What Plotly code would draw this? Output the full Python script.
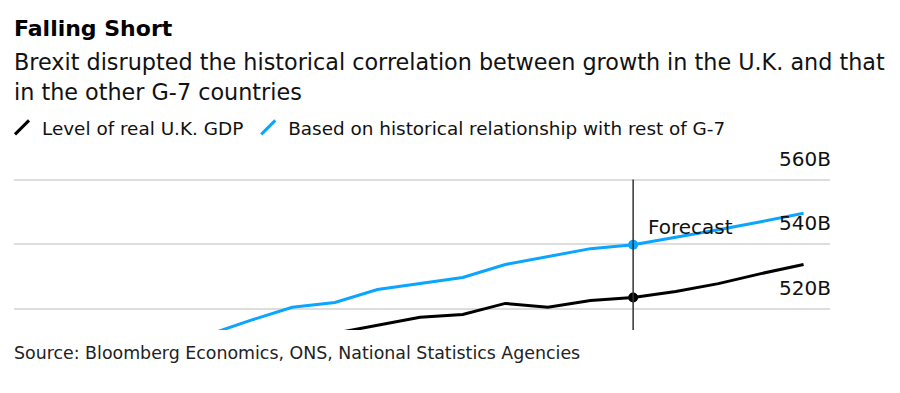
import plotly.graph_objects as go

quarters = ["2016 Q4", "2017 Q1", "2017 Q2", "2017 Q3", "2017 Q4",
            "2018 Q1", "2018 Q2", "2018 Q3", "2018 Q4", "2019 Q1",
            "2019 Q2", "2019 Q3", "2019 Q4", "2020 Q1", "2020 Q2"]
uk_gdp = [None, None, None, 512.6, 515.0, 517.5, 518.4, 521.8, 520.6, 522.7,
          523.6, 525.5, 527.9, 531.0, 533.8]
counterfactual = [512.0, 516.5, 520.6, 522.1, 526.1, 527.9, 529.8, 533.8, 536.2, 538.7,
                  539.9, 542.1, 544.5, 547.0, 549.6]
forecast_start = "2019 Q2"
y_ticks = [520, 540, 560]
y_tick_labels = ["520B", "540B", "560B"]

BLACK = "#000000"
BLUE = "#0aa5ff"
FONT = "DejaVu Sans, Liberation Sans, sans-serif"

Y_MIN, Y_MAX = 513.6, 560.8

# page body has an 8px margin; figure is sized to fill the rest of the window
OFF = 8
W, H = 900 - OFF, 393 - OFF
L, R, T, B = 14 - OFF, 900 - 830, 176.7 - OFF, 393 - 330
plot_h = H - T - B
plot_w = W - L - R


def py(page_y):
    return (H - B - (page_y - OFF)) / plot_h


fi = quarters.index(forecast_start)

fig = go.Figure()
fig.add_trace(go.Scatter(x=quarters, y=counterfactual, mode="lines",
                         line=dict(color=BLUE, width=3), showlegend=False))
fig.add_trace(go.Scatter(x=quarters, y=uk_gdp, mode="lines",
                         line=dict(color=BLACK, width=3), showlegend=False))
fig.add_trace(go.Scatter(x=[quarters[fi]], y=[counterfactual[fi]], mode="markers",
                         marker=dict(color=BLUE, size=10), showlegend=False))
fig.add_trace(go.Scatter(x=[quarters[fi]], y=[uk_gdp[fi]], mode="markers",
                         marker=dict(color=BLACK, size=10), showlegend=False))

# legend entries
fig.add_trace(go.Scatter(x=[None], y=[None], mode="markers", name="Level of real U.K. GDP",
                         marker=dict(symbol="line-ne", size=14,
                                     line=dict(color=BLACK, width=3))))
fig.add_trace(go.Scatter(x=[None], y=[None], mode="markers",
                         name="Based on historical relationship with rest of G-7",
                         marker=dict(symbol="line-ne", size=14,
                                     line=dict(color=BLUE, width=3))))

fig.add_shape(type="line", xref="x", yref="y", x0=fi, x1=fi, y0=Y_MIN, y1=y_ticks[-1],
              line=dict(color="#333333", width=1.5))

fig.add_annotation(x=fi, y=545.4, xref="x", yref="y", text="Forecast",
                   showarrow=False, xanchor="left", xshift=13,
                   font=dict(size=20, color="#111111", family=FONT))

fig.add_annotation(x=0, y=py(28), xref="paper", yref="paper", text="<b>Falling Short</b>",
                   showarrow=False, xanchor="left", yanchor="middle", xshift=-2,
                   font=dict(size=22, color="#000000", family=FONT))
fig.add_annotation(x=0, y=py(61), xref="paper", yref="paper",
                   text="Brexit disrupted the historical correlation between growth in the U.K. and that",
                   showarrow=False, xanchor="left", yanchor="middle", xshift=-2,
                   font=dict(size=22.3, color="#111111", family=FONT))
fig.add_annotation(x=0, y=py(92), xref="paper", yref="paper",
                   text="in the other G-7 countries",
                   showarrow=False, xanchor="left", yanchor="middle", xshift=-2,
                   font=dict(size=22.3, color="#111111", family=FONT))
fig.add_annotation(x=0, y=py(353), xref="paper", yref="paper",
                   text="Source: Bloomberg Economics, ONS, National Statistics Agencies",
                   showarrow=False, xanchor="left", yanchor="middle", xshift=-2,
                   font=dict(size=17.4, color="#222222", family=FONT))

fig.update_layout(
    width=W, height=H,
    margin=dict(l=L, r=R, t=T, b=B, autoexpand=False),
    plot_bgcolor="white", paper_bgcolor="white",
    font=dict(family=FONT, color="#111111"),
    legend=dict(orientation="h", x=-12 / plot_w, xref="paper", y=py(127), yref="paper",
                xanchor="left", yanchor="middle",
                font=dict(size=18.4, color="#111111", family=FONT),
                itemwidth=30, tracegroupgap=0, bgcolor="rgba(0,0,0,0)"),
    xaxis=dict(type="category", range=[-4.53, 14.62], showticklabels=False,
               showgrid=False, zeroline=False, showline=False, ticks=""),
    yaxis=dict(range=[Y_MIN, Y_MAX], side="right", tickvals=y_ticks, ticktext=y_tick_labels,
               ticklabelposition="inside top", ticklabeloverflow="allow",
               ticklabelstandoff=-4, ticklabelshift=-7,
               showgrid=True, gridcolor="#dddddd",
               gridwidth=1.5, zeroline=False, showline=False, ticks="",
               tickfont=dict(size=20, color="#111111", family=FONT)),
)

fig.write_html("out.html")
